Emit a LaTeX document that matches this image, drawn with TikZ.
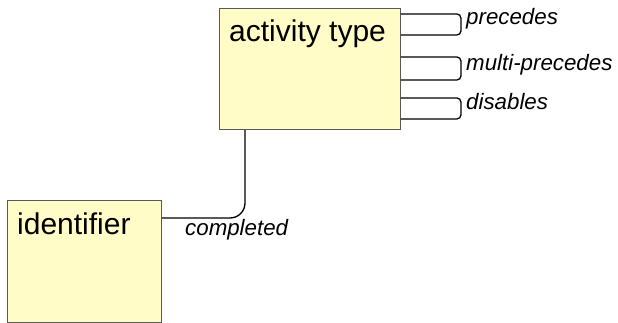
\documentclass[tikz,border=0pt]{standalone}
\usepackage{fontspec}
\setmainfont{Liberation Sans}
\begin{document}
\begin{tikzpicture}[x=1pt,y=-1pt,
  entity/.style={draw=black!65, fill=yellow!22, line width=0.9pt, inner sep=0pt, anchor=north west},
  etext/.style={anchor=base west, inner sep=0pt, font=\fontsize{30}{35}\selectfont},
  rlabel/.style={anchor=base west, inner sep=0pt, font=\fontsize{22.3}{27}\selectfont\itshape},
  rel/.style={draw=black, line width=1.3pt},
  loopline/.style={rel, rounded corners=4pt}]
\useasboundingbox (0,0) rectangle (618,323);
\node[entity, minimum width=181pt, minimum height=121pt] (act) at (219,8) {};
\node[etext] (actt) at (229,42) {activity type};
\node[entity, minimum width=154pt, minimum height=122pt] (idf) at (7,200) {};
\node[etext] (idft) at (17,234) {identifier};
% completed connector
\draw[rel, rounded corners=15pt] ([yshift=-18pt]idf.north east) -| ([xshift=26pt]act.south west);
\node[rlabel] (lc) at (185,235) {completed};
% self loops
\draw[loopline] ([yshift=-6pt]act.north east) -- ++(60,0) -- ++(0,21) -- ++(-60,0);
\node[rlabel] (l1) at (466,25) {precedes};
\draw[loopline] ([yshift=-49pt]act.north east) -- ++(60,0) -- ++(0,23) -- ++(-60,0);
\node[rlabel] (l2) at (466,71) {multi-precedes};
\draw[loopline] ([yshift=-90pt]act.north east) -- ++(60,0) -- ++(0,21) -- ++(-60,0);
\node[rlabel] (l3) at (466,110) {disables};
\end{tikzpicture}
\end{document}
